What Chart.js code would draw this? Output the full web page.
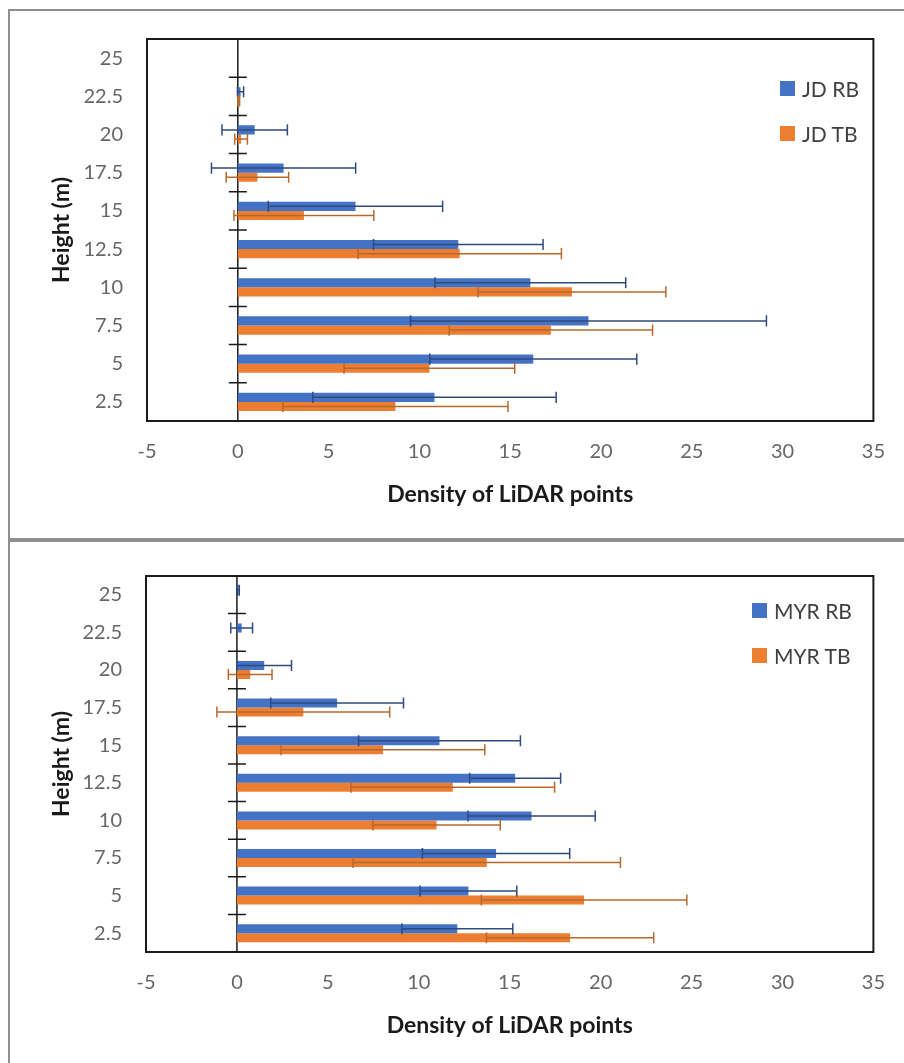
<!DOCTYPE html>
<html lang="en">
<head>
  <meta charset="UTF-8">
  <title>Density of LiDAR points by height</title>
  <script src="https://cdn.jsdelivr.net/npm/chart.js"></script>
  <style>
    html, body { margin: 0; padding: 0; background: #fff; overflow: hidden; }
    body { width: 904px; height: 1063px; position: relative; font-family: Lato, "Open Sans", sans-serif; }
    .panel { position: absolute; left: 8px; width: 920px; border: 2px solid #8f8f8f; box-sizing: border-box; background: #fff; }
    #panel-top { top: 9px; height: 531px; }
    #panel-bottom { top: 540px; height: 540px; }
    canvas.chart { position: absolute; left: 0; }
    .legend { position: absolute; font-size: 21px; color: #404040; }
    .legend .item { display: flex; align-items: center; height: 22px; margin-bottom: 23px; white-space: nowrap; }
    .legend .sw { display: inline-block; width: 15px; height: 15px; margin-right: 7px; }
  </style>
</head>
<body>
  <div class="panel" id="panel-top"></div>
  <div class="panel" id="panel-bottom"></div>

  <canvas class="chart" id="jd-chart" width="904" height="540" style="top:0"></canvas>
  <canvas class="chart" id="myr-chart" width="904" height="523" style="top:540px"></canvas>

  <div class="legend" id="jd-legend" style="left:780px; top:77px"></div>
  <div class="legend" id="myr-legend" style="left:752px; top:599px"></div>

  <script>
    // Height classes, top to bottom as drawn
    const heights = ['25', '22.5', '20', '17.5', '15', '12.5', '10', '7.5', '5', '2.5'];
    const densityTicks = [-5, 0, 5, 10, 15, 20, 25, 30, 35];

    // JD site
    const jdRB    = [0, 0.15, 0.93, 2.52, 6.48, 12.14, 16.11, 19.31, 16.27, 10.83];
    const jdRBErr = [0, 0.17, 1.8, 3.97, 4.8, 4.67, 5.25, 9.8, 5.7, 6.7];
    const jdTB    = [0, 0.05, 0.18, 1.08, 3.64, 12.22, 18.4, 17.24, 10.55, 8.68];
    const jdTBErr = [0, 0.05, 0.35, 1.72, 3.85, 5.6, 5.17, 5.6, 4.7, 6.2];

    // MYR site
    const myrRB    = [0.08, 0.26, 1.5, 5.51, 11.14, 15.3, 16.2, 14.25, 12.73, 12.12];
    const myrRBErr = [0.05, 0.6, 1.5, 3.65, 4.45, 2.5, 3.5, 4.05, 2.66, 3.05];
    const myrTB    = [0, 0, 0.73, 3.65, 8.03, 11.87, 10.98, 13.74, 19.09, 18.32];
    const myrTBErr = [0, 0, 1.2, 4.75, 5.6, 5.6, 3.5, 7.35, 5.65, 4.6];

    const BLUE = '#4472C4', ORANGE = '#ED7D31';
    const BLUE_ERR = '#2F4A7E', ORANGE_ERR = '#B5692C';

    // plot frame, zero axis and its cross ticks
    const frame = {
      id: 'frame',
      beforeDatasetsDraw(chart) {
        const { ctx, chartArea: a, scales: { x, y } } = chart;
        const x0 = x.getPixelForValue(0);
        ctx.save();
        ctx.strokeStyle = '#1a1a1a';
        ctx.lineWidth = 1.5;
        ctx.beginPath();
        ctx.moveTo(x0, a.top);
        ctx.lineTo(x0, a.bottom);
        for (let i = 1; i < heights.length; i++) {
          const yy = (y.getPixelForValue(i - 1) + y.getPixelForValue(i)) / 2;
          ctx.moveTo(x0 - 9, yy);
          ctx.lineTo(x0 + 9, yy);
        }
        ctx.stroke();
        ctx.restore();
      },
      afterDraw(chart) {
        const { ctx, chartArea: a } = chart;
        ctx.save();
        ctx.strokeStyle = '#1a1a1a';
        ctx.lineWidth = 2;
        ctx.strokeRect(a.left, a.top, a.right - a.left, a.bottom - a.top);
        ctx.restore();
      }
    };

    // +/- error bars with caps
    const errorBars = {
      id: 'errorBars',
      afterDatasetsDraw(chart) {
        const { ctx } = chart;
        const x = chart.scales.x;
        chart.data.datasets.forEach((ds, di) => {
          const meta = chart.getDatasetMeta(di);
          ctx.save();
          ctx.strokeStyle = ds.errorColor;
          ctx.lineWidth = 1.5;
          meta.data.forEach((bar, i) => {
            const e = ds.errors[i];
            if (!e) return;
            const v = ds.data[i];
            const xa = x.getPixelForValue(v - e);
            const xb = x.getPixelForValue(v + e);
            const h = bar.height / 2 + 1;
            ctx.beginPath();
            ctx.moveTo(xa, bar.y); ctx.lineTo(xb, bar.y);
            ctx.moveTo(xa, bar.y - h); ctx.lineTo(xa, bar.y + h);
            ctx.moveTo(xb, bar.y - h); ctx.lineTo(xb, bar.y + h);
            ctx.stroke();
          });
          ctx.restore();
        });
      }
    };

    function makeChart(id, series, pad, yWidth) {
      return new Chart(document.getElementById(id), {
        type: 'bar',
        data: {
          labels: heights,
          datasets: series.map(s => ({
            label: s.label,
            data: s.data,
            errors: s.errors,
            errorColor: s.errorColor,
            backgroundColor: s.color,
            borderWidth: 0,
            categoryPercentage: 0.48,
            barPercentage: 1.0
          }))
        },
        options: {
          indexAxis: 'y',
          responsive: false,
          animation: false,
          layout: { padding: pad },
          plugins: { legend: { display: false }, tooltip: { enabled: false } },
          scales: {
            x: {
              min: densityTicks[0],
              max: densityTicks[densityTicks.length - 1],
              afterBuildTicks: s => { s.ticks = densityTicks.map(v => ({ value: v })); },
              afterFit: s => { s.height = 100; },
              grid: { display: false, drawTicks: false },
              border: { display: false },
              ticks: { color: '#666666', padding: 19, font: { family: 'Lato', size: 20 } },
              title: {
                display: true,
                text: 'Density of LiDAR points',
                color: '#1a1a1a',
                padding: { top: 0, bottom: 13 },
                font: { family: 'Lato', size: 23, weight: 'bold' }
              }
            },
            y: {
              afterFit: s => { s.width = yWidth; },
              grid: { display: false, drawTicks: false },
              border: { display: false },
              ticks: { color: '#666666', padding: 24, font: { family: 'Lato', size: 20 } },
              title: {
                display: true,
                text: 'Height (m)',
                color: '#1a1a1a',
                padding: 0,
                font: { family: 'Lato', size: 23, weight: 'bold' }
              }
            }
          }
        },
        plugins: [frame, errorBars]
      });
    }

    function makeLegend(id, series) {
      const box = document.getElementById(id);
      series.forEach(s => {
        const item = document.createElement('div');
        item.className = 'item';
        item.innerHTML = '<span class="sw" style="background:' + s.color + '"></span>' + s.label;
        box.appendChild(item);
      });
    }

    const jdSeries = [
      { label: 'JD RB', data: jdRB, errors: jdRBErr, color: BLUE, errorColor: BLUE_ERR },
      { label: 'JD TB', data: jdTB, errors: jdTBErr, color: ORANGE, errorColor: ORANGE_ERR }
    ];
    const myrSeries = [
      { label: 'MYR RB', data: myrRB, errors: myrRBErr, color: BLUE, errorColor: BLUE_ERR },
      { label: 'MYR TB', data: myrTB, errors: myrTBErr, color: ORANGE, errorColor: ORANGE_ERR }
    ];

    makeChart('jd-chart', jdSeries, { left: 48, top: 39, right: 28, bottom: 19 }, 99);
    makeChart('myr-chart', myrSeries, { left: 48, top: 31, right: 29, bottom: 11 }, 98);
    makeLegend('jd-legend', jdSeries);
    makeLegend('myr-legend', myrSeries);
  </script>
</body>
</html>
